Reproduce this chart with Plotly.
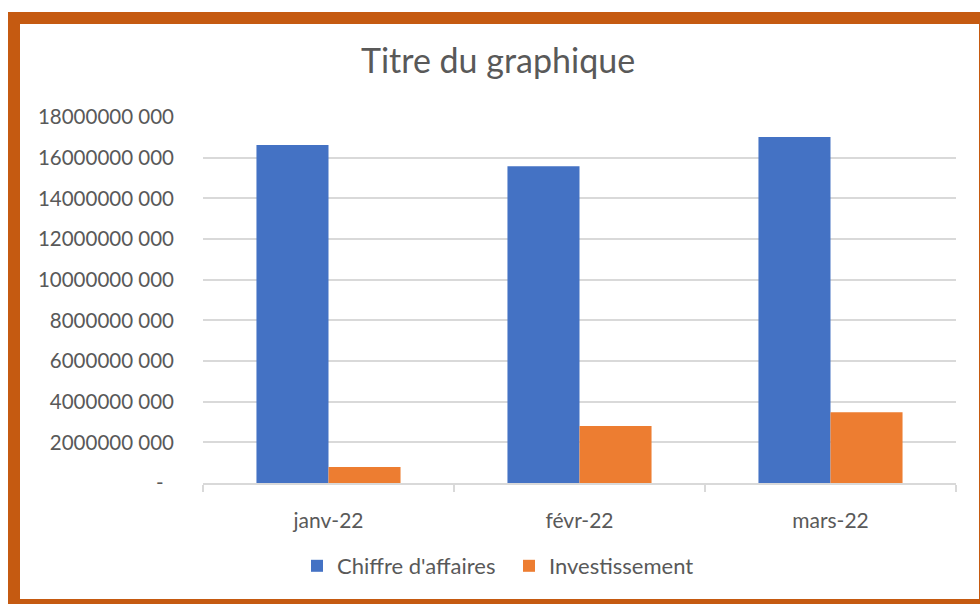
import plotly.graph_objects as go

categories = ["janv-22", "févr-22", "mars-22"]
chiffre_affaires = [16620000000, 15580000000, 17020000000]
investissement = [790000000, 2800000000, 3480000000]
tick_values = [0, 2e9, 4e9, 6e9, 8e9, 10e9, 12e9, 14e9, 16e9, 18e9]
tick_labels = ["-\u00a0\u00a0", "2000000 000", "4000000 000", "6000000 000", "8000000 000",
               "10000000 000", "12000000 000", "14000000 000", "16000000 000", "18000000 000"]

FONT = "Lato, 'Open Sans', sans-serif"
TXT = "#595959"

fig = go.Figure()
fig.add_trace(go.Bar(name="Chiffre d'affaires", x=categories, y=chiffre_affaires,
                     marker=dict(color="#4472C4", line=dict(width=0))))
fig.add_trace(go.Bar(name="Investissement", x=categories, y=investissement,
                     marker=dict(color="#ED7D31", line=dict(width=0))))

W, H = 980, 604
L, R, T, B = 203, 24, 117, 121
pw, ph = W - L - R, H - T - B

def px_x(px):
    return (px - L) / pw

def px_y(py):
    return (H - B - py) / ph

fig.update_layout(
    width=W, height=H,
    margin=dict(l=L, r=R, t=T, b=B, autoexpand=False),
    paper_bgcolor="white", plot_bgcolor="white",
    barmode="group", bargap=0.426, bargroupgap=0,
    font=dict(family=FONT, color=TXT, size=20),
    title=dict(text="Titre du graphique", font=dict(family=FONT, size=34, color=TXT),
               xref="paper", x=px_x(498), xanchor="center",
               yref="container", y=1 - 61 / H, yanchor="middle"),
    xaxis=dict(showgrid=False, showline=True, linecolor="#D9D9D9", linewidth=1.5,
               ticks="outside", tickson="boundaries", ticklen=7, tickcolor="#D9D9D9",
               tickwidth=1.5,
               tickfont=dict(family=FONT, size=21, color=TXT), ticklabelstandoff=18),
    yaxis=dict(range=[0, 18e9], tickvals=tick_values, ticktext=tick_labels,
               showgrid=True, gridcolor="#D9D9D9", gridwidth=1.5, zeroline=False,
               showline=False, ticks="", ticklabelstandoff=28,
               tickfont=dict(family=FONT, size=20.5, color=TXT)),
    legend=dict(orientation="h", xref="paper", x=px_x(297), xanchor="left",
                yref="paper", y=px_y(566), yanchor="middle",
                font=dict(family=FONT, size=22, color=TXT), itemwidth=30,
                entrywidth=167, entrywidthmode="pixels",
                tracegroupgap=0),
    shapes=[dict(type="rect", xref="paper", yref="paper",
                 x0=px_x(14), x1=px_x(985), y0=px_y(605), y1=px_y(18),
                 line=dict(color="#C55A11", width=12), fillcolor="rgba(0,0,0,0)",
                 layer="above")],
)

fig.write_html("out.html", config={"displayModeBar": False},
               post_script="document.body.style.margin='0';document.body.style.overflow='hidden';")
